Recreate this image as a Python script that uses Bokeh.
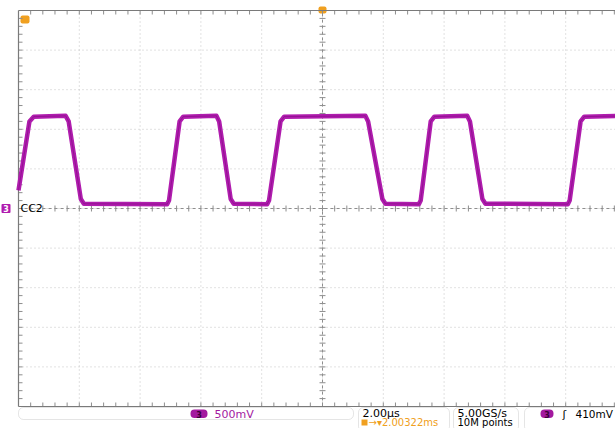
import numpy as np
from bokeh.plotting import figure
from bokeh.models import Range1d, BoxAnnotation
from bokeh.embed import file_html
from bokeh.resources import INLINE
from bokeh.core.properties import value

# ---------------- data ----------------
# CH3 (CC2) trace: time in microseconds from the left graticule edge, volts
t_us = [0.00, 0.36, 0.50, 1.55, 1.65, 2.05, 2.15,
        4.89, 4.95, 5.30, 5.42, 6.51, 6.60, 6.98, 7.08,
        8.18, 8.24, 8.62, 8.74, 11.41, 11.50, 11.97, 12.07,
        13.17, 13.23, 13.56, 13.68, 14.76, 14.85, 15.26, 15.36,
        18.07, 18.13, 18.49, 18.61, 20.00]
v_volts = [0.23, 1.10, 1.16, 1.17, 1.10, 0.12, 0.06,
           0.055, 0.10, 1.10, 1.16, 1.17, 1.10, 0.12, 0.06,
           0.055, 0.10, 1.10, 1.16, 1.17, 1.10, 0.12, 0.06,
           0.055, 0.10, 1.10, 1.16, 1.17, 1.10, 0.12, 0.06,
           0.055, 0.10, 1.10, 1.16, 1.17]

channel_label = "CC2"
channel_number = "3"
vertical_scale = "500mV"
horizontal_scale = "2.00\u00b5s"
trigger_delay = "\u2192\u25be2.00322ms"
sample_rate = "5.00GS/s"
record_length = "10M points"
trigger_level = "410mV"

US_PER_DIV = 2.0
V_PER_DIV = 0.5
N_HDIV = 10
N_VDIV = 10

# ---------------- layout ----------------
W, H = 615, 428
PX_PER_US = 30.4
PX_PER_V = 79.2
GRAT_LEFT_PX = 18      # graticule left edge inside the figure
GRAT_TOP_PX = 10       # graticule top edge inside the figure

x0 = -GRAT_LEFT_PX / PX_PER_US
x1 = x0 + W / PX_PER_US
vtop = N_VDIV / 2 * V_PER_DIV
ytop = vtop + GRAT_TOP_PX / PX_PER_V
ybot = ytop - H / PX_PER_V


def px(page_x):
    """page x pixel -> time (us)"""
    return (page_x - GRAT_LEFT_PX) / PX_PER_US


def py(page_y):
    """page y pixel -> volts"""
    return vtop - (page_y - GRAT_TOP_PX) / PX_PER_V


p = figure(width=W, height=H, x_range=Range1d(x0, x1), y_range=Range1d(ybot, ytop),
           output_backend="svg", toolbar_location=None,
           x_axis_location=None, y_axis_location=None,
           min_border=0, min_border_left=0, min_border_right=0,
           min_border_top=0, min_border_bottom=0)
p.grid.visible = False
p.outline_line_color = None
p.background_fill_color = "white"
p.border_fill_color = "white"

t_end = N_HDIV * US_PER_DIV
t_mid = t_end / 2
GRID = "#c4c4c4"
TICK = "#8e8e8e"


def box(l, r, t, b, fill=None, line=None, radius=0):
    p.add_layout(BoxAnnotation(left=px(l), right=px(r), top=py(t), bottom=py(b),
                               fill_color=fill, fill_alpha=1 if fill else 0,
                               line_color=line, line_width=1, border_radius=radius,
                               level="underlay"))


# dotted division lines
vx = [i * US_PER_DIV for i in range(1, N_HDIV)]
p.segment(x0=vx, y0=[-vtop] * len(vx), x1=vx, y1=[vtop] * len(vx),
          line_color=GRID, line_dash="1 3", line_width=1)
hy = [(j - N_VDIV / 2) * V_PER_DIV for j in range(1, N_VDIV)]
p.segment(x0=[0] * len(hy), y0=hy, x1=[t_end] * len(hy), y1=hy,
          line_color=GRID, line_dash="1 3", line_width=1)

# centre axes minor ticks
tx = [k * US_PER_DIV / 5 for k in range(1, N_HDIV * 5)]
dy = 3 / PX_PER_V
p.segment(x0=tx, y0=[-dy] * len(tx), x1=tx, y1=[dy] * len(tx), line_color=TICK, line_width=1)
ty = [(k - N_VDIV * 5 / 2) * V_PER_DIV / 5 for k in range(1, N_VDIV * 5)]
dx = 3 / PX_PER_US
p.segment(x0=[t_mid - dx] * len(ty), y0=ty, x1=[t_mid + dx] * len(ty), y1=ty, line_color=TICK, line_width=1)
p.segment(x0=[0], y0=[0], x1=[t_end], y1=[0], line_color=TICK, line_dash="3 3", line_width=1)
p.segment(x0=[t_mid], y0=[-vtop], x1=[t_mid], y1=[vtop], line_color=TICK, line_dash="3 3", line_width=1)

# border ticks
bl = 4 / PX_PER_US
p.segment(x0=[0] * len(ty), y0=ty, x1=[bl] * len(ty), y1=ty, line_color=TICK, line_width=1)
bv = 4 / PX_PER_V
p.segment(x0=tx, y0=[vtop] * len(tx), x1=tx, y1=[vtop - bv] * len(tx), line_color=TICK, line_width=1)
p.segment(x0=tx, y0=[-vtop] * len(tx), x1=tx, y1=[-vtop + bv] * len(tx), line_color=TICK, line_width=1)

# status boxes
BOX = "#a8a8a8"
for l, r, t, b in [(18, 353, 407, 419), (358, 449, 407, 431), (453, 518, 407, 431), (524, 680, 407, 431)]:
    box(l, r, t, b, fill=None, line=BOX, radius=5)

# graticule border
BORDER = "#7a7a7a"
p.segment(x0=[0, 0, 0], y0=[-vtop, vtop, -vtop], x1=[0, t_end, t_end], y1=[vtop, vtop, -vtop],
          line_color=BORDER, line_width=1.2)

# trace
TRACE = "#b01cae"
p.line(t_us, v_volts, line_color=TRACE, line_width=4.5, line_join="round")
p.line(t_us, v_volts, line_color="#780a78", line_width=1, line_alpha=0.5)

FONT = value("DejaVu Sans")

# channel marker on left
box(1, 10, 203.5, 212.5, fill=TRACE, radius=1)
p.text(x=[px(5.5)], y=[py(208)], text=[channel_number], text_color="white",
       text_font=FONT, text_font_size="8px", text_font_style="bold",
       text_align="center", text_baseline="middle")
p.text(x=[px(20)], y=[0], text=[channel_label], text_color="black",
       text_font=FONT, text_font_size="11px",
       text_align="left", text_baseline="middle")

# orange trigger markers
ORANGE = "#f0a020"
box(318, 326, 6, 13, fill=ORANGE, radius=2)
box(20, 29, 15, 23, fill=ORANGE, radius=2)

# status bar texts
PILL = "#a3199f"
for l, r in [(190, 207), (540, 553)]:
    box(l, r, 409, 417.5, fill=PILL, radius=4)
    p.text(x=[px((l + r) / 2)], y=[py(413.5)], text=[channel_number], text_color="#3a003a",
           text_font=FONT, text_font_size="8px", text_font_style="bold",
           text_align="center", text_baseline="middle")

p.text(x=[px(214)], y=[py(413.5)], text=[vertical_scale], text_color=PILL,
       text_font=FONT, text_font_size="11px", text_align="left", text_baseline="middle")
p.text(x=[px(362)], y=[py(412.5)], text=[horizontal_scale], text_color="black",
       text_font=FONT, text_font_size="11px", text_align="left", text_baseline="middle")
box(361, 367, 419, 425, fill=ORANGE)
p.text(x=[px(368)], y=[py(421.5)], text=[trigger_delay], text_color=ORANGE,
       text_font=FONT, text_font_size="10px", text_align="left", text_baseline="middle")
p.text(x=[px(457)], y=[py(412.5)], text=[sample_rate], text_color="black",
       text_font=FONT, text_font_size="11px", text_align="left", text_baseline="middle")
p.text(x=[px(457)], y=[py(421.5)], text=[record_length], text_color="black",
       text_font=FONT, text_font_size="10px", text_align="left", text_baseline="middle")
p.text(x=[px(562)], y=[py(413.5)], text=["\u0283"], text_color="black",
       text_font=FONT, text_font_size="11px", text_align="left", text_baseline="middle")
p.text(x=[px(575)], y=[py(413.5)], text=[trigger_level], text_color="black",
       text_font=FONT, text_font_size="10.5px", text_align="left", text_baseline="middle")

open("out.html", "w").write(file_html(p, INLINE))
